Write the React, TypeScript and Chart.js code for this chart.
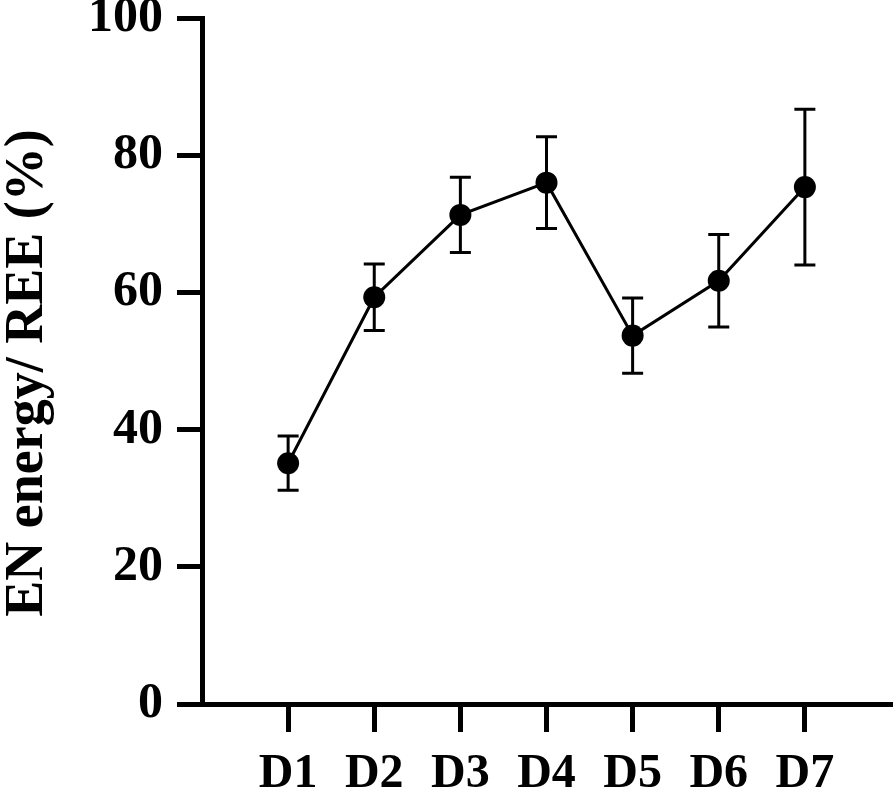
import React, { useEffect, useRef } from 'react';
import { Chart, registerables } from 'chart.js';

Chart.register(...registerables);

const categories = ['D1', 'D2', 'D3', 'D4', 'D5', 'D6', 'D7'];
const means = [35.1, 59.3, 71.3, 76.0, 53.7, 61.7, 75.35];
const errors = [3.95, 4.85, 5.5, 6.7, 5.5, 6.75, 11.35];
const yTicks = [0, 20, 40, 60, 80, 100];
const yTitle = 'EN energy/ REE (%)';

const FONT = '"Liberation Serif", "Times New Roman", serif';

const errorBarPlugin = {
  id: 'errorBars',
  beforeDatasetsDraw(chart: any) {
    const { ctx, scales } = chart;
    const x = scales.x;
    const y = scales.y;
    ctx.save();
    ctx.strokeStyle = '#000';
    ctx.lineWidth = 3;
    ctx.lineCap = 'butt';
    means.forEach((m, i) => {
      const px = x.getPixelForValue(i + 1);
      const top = y.getPixelForValue(m + errors[i]);
      const bot = y.getPixelForValue(m - errors[i]);
      const hw = 10.5;
      ctx.beginPath();
      ctx.moveTo(px, top);
      ctx.lineTo(px, bot);
      ctx.moveTo(px - hw, top);
      ctx.lineTo(px + hw, top);
      ctx.moveTo(px - hw, bot);
      ctx.lineTo(px + hw, bot);
      ctx.stroke();
    });
    ctx.restore();
  },
};

const yTitlePlugin = {
  id: 'yTitleText',
  afterDraw(chart: any) {
    const { ctx, chartArea } = chart;
    const cy = (chartArea.top + chartArea.bottom) / 2 + 12;
    ctx.save();
    ctx.translate(28, cy);
    ctx.rotate(-Math.PI / 2);
    ctx.fillStyle = '#000';
    ctx.font = `bold 54px ${FONT}`;
    ctx.textAlign = 'center';
    ctx.textBaseline = 'middle';
    ctx.fillText(yTitle, 0, 0);
    ctx.restore();
  },
};

export default function App() {
  const ref = useRef<HTMLCanvasElement | null>(null);

  useEffect(() => {
    if (!ref.current) return;
    const chart = new Chart(ref.current, {
      type: 'line',
      data: {
        datasets: [
          {
            data: means.map((v, i) => ({ x: i + 1, y: v })),
            borderColor: '#000',
            borderWidth: 3,
            pointRadius: 11,
            pointBackgroundColor: '#000',
            pointBorderColor: '#000',
            pointBorderWidth: 0,
            tension: 0,
            fill: false,
          },
        ],
      },
      options: {
        responsive: false,
        animation: false,
        devicePixelRatio: 1,
        layout: { autoPadding: false, padding: { top: 18, right: 2, left: 0, bottom: 0 } },
        plugins: {
          legend: { display: false },
          tooltip: { enabled: false },
        },
        scales: {
          x: {
            type: 'linear',
            min: 0,
            max: 8,
            afterBuildTicks: (axis: any) => {
              axis.ticks = categories.map((_, i) => ({ value: i + 1 }));
            },
            afterFit: (scale: any) => {
              scale.height = 89;
              scale.paddingLeft = 0;
              scale.paddingRight = 0;
            },
            ticks: {
              autoSkip: false,
              maxRotation: 0,
              padding: 14,
              color: '#000',
              font: { family: FONT, size: 48, weight: 'bold' },
              callback: (v: any) => categories[Number(v) - 1] ?? '',
            },
            grid: {
              display: true,
              drawOnChartArea: false,
              drawTicks: true,
              tickLength: 28,
              tickWidth: 5,
              tickColor: '#000',
              color: '#000',
              lineWidth: 5,
            },
            border: { display: true, color: '#000', width: 5 },
          },
          y: {
            type: 'linear',
            min: 0,
            max: 100,
            afterBuildTicks: (axis: any) => {
              axis.ticks = yTicks.map((v) => ({ value: v }));
            },
            afterFit: (scale: any) => {
              scale.width = 202;
              scale.paddingTop = 0;
              scale.paddingBottom = 0;
            },
            ticks: {
              padding: 14,
              color: '#000',
              font: { family: FONT, size: 50, weight: 'bold' },
            },
            grid: {
              display: true,
              drawOnChartArea: false,
              drawTicks: true,
              tickLength: 25,
              tickWidth: 5,
              tickColor: '#000',
              color: '#000',
              lineWidth: 5,
            },
            border: { display: true, color: '#000', width: 5 },
            title: { display: false },
          },
        },
      },
      plugins: [errorBarPlugin, yTitlePlugin],
    });
    return () => chart.destroy();
  }, []);

  return (
    <div style={{ position: 'absolute', left: 0, top: 0, width: 893, height: 793, background: '#fff' }}>
      <canvas ref={ref} width={893} height={793} style={{ width: 893, height: 793, display: 'block' }} />
    </div>
  );
}
